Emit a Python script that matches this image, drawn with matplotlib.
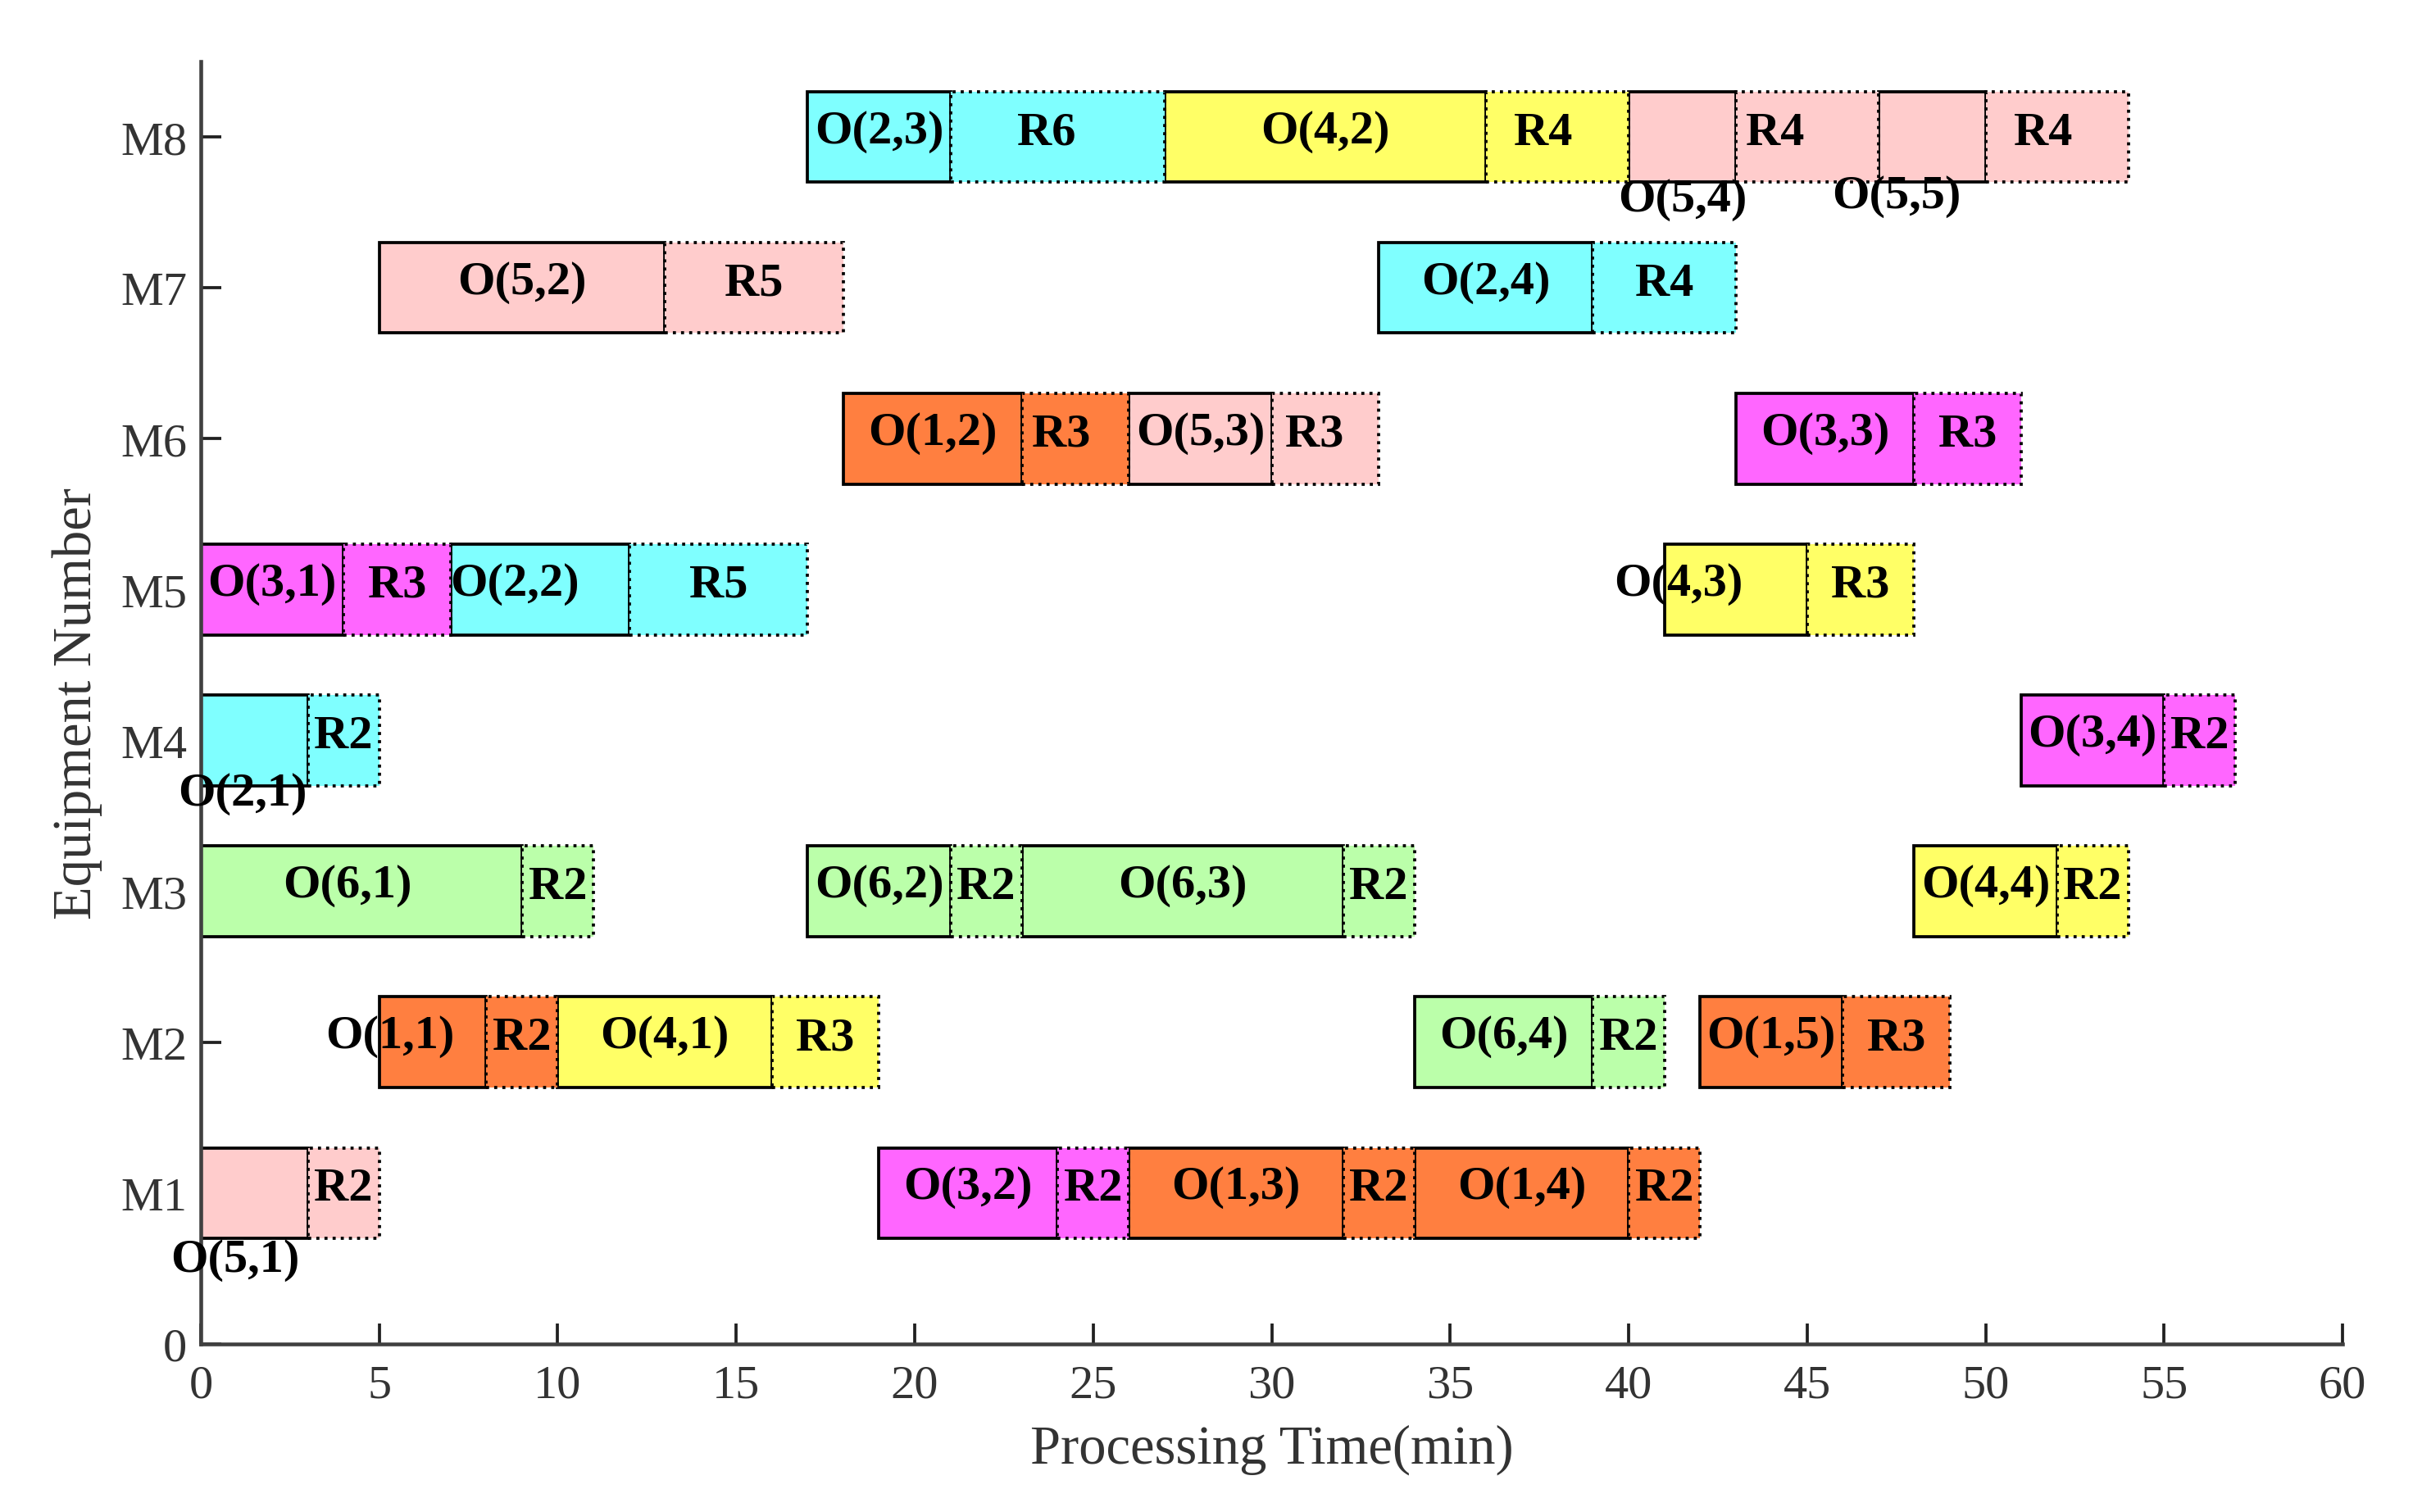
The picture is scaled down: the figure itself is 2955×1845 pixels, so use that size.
import matplotlib.pyplot as plt

plt.rcParams['font.family'] = ['Liberation Serif', 'DejaVu Serif']

# -------------------------------------------------
# Schedule data: one entry per operation O(job,step)
# followed by its R segment on the same machine
# -------------------------------------------------
machine = [8, 8, 8, 8,
           7, 7,
           6, 6, 6,
           5, 5, 5,
           4, 4,
           3, 3, 3, 3,
           2, 2, 2, 2,
           1, 1, 1, 1]
job = [2, 4, 5, 5,
       5, 2,
       1, 5, 3,
       3, 2, 4,
       2, 3,
       6, 6, 6, 4,
       1, 4, 6, 1,
       5, 3, 1, 1]
step = [3, 2, 4, 5,
        2, 4,
        2, 3, 3,
        1, 2, 3,
        1, 4,
        1, 2, 3, 4,
        1, 1, 4, 5,
        1, 2, 3, 4]
start = [17, 27, 40, 47,
         5, 33,
         18, 26, 43,
         0, 7, 41,
         0, 51,
         0, 17, 23, 48,
         5, 10, 34, 42,
         0, 19, 26, 34]
proc = [4, 9, 3, 3,
        8, 6,
        5, 4, 5,
        4, 5, 4,
        3, 4,
        9, 4, 9, 4,
        3, 6, 5, 4,
        3, 5, 6, 6]
rest = [6, 4, 4, 4,
        5, 4,
        3, 3, 3,
        3, 5, 3,
        2, 2,
        2, 2, 2, 2,
        2, 3, 2, 3,
        2, 2, 2, 2]
rname = ['R6', 'R4', 'R4', 'R4',
         'R5', 'R4',
         'R3', 'R3', 'R3',
         'R3', 'R5', 'R3',
         'R2', 'R2',
         'R2', 'R2', 'R2', 'R2',
         'R2', 'R3', 'R2', 'R3',
         'R2', 'R2', 'R2', 'R2']

machine_labels = ['0', 'M1', 'M2', 'M3', 'M4', 'M5', 'M6', 'M7', 'M8']

job_colors = {1: '#ff7f40', 2: '#7fffff', 3: '#ff66ff',
              4: '#ffff66', 5: '#ffcccc', 6: '#bbffaa'}

# label nudges (dx, dy) relative to the segment centre
op_shift = {(2, 2): (-0.7, 0), (4, 3): (-1.6, 0), (1, 1): (-1.2, 0),
            (6, 1): (-0.4, 0), (2, 1): (-0.33, -0.39), (5, 1): (-0.55, -0.48),
            (5, 4): (0.0, -0.45), (5, 5): (-1.0, -0.43)}
r_shift = {(2, 3): -0.3, (4, 2): -0.4, (5, 4): -0.9, (5, 5): -0.4,
           (1, 2): -0.4, (5, 3): -0.3}

H = 0.6

fig = plt.figure(figsize=(9.85, 6.1533), dpi=300)
ax = fig.add_axes([0.0829, 0.1111, 0.8843, 0.8477])

for m, j, s, t0, p, r, rn in zip(machine, job, step, start, proc, rest, rname):
    c = job_colors[j]
    ax.barh(m, p, left=t0, height=H, color=c, edgecolor='black',
            linewidth=0.9, zorder=2)
    ax.barh(m, r, left=t0 + p, height=H, color=c, edgecolor='black',
            linewidth=0.9, linestyle=':', zorder=3)

    dx, dy = op_shift.get((j, s), (0, 0))
    ax.text(t0 + p / 2 + dx, m + 0.04 + dy, f'O({j},{s})', ha='center',
            va='center', fontsize=14, fontweight='bold', zorder=5)
    rdx = r_shift.get((j, s), 0)
    ax.text(t0 + p + r / 2 + rdx, m + 0.03, rn, ha='center', va='center',
            fontsize=14, fontweight='bold', zorder=5)

ax.set_xlim(0, 60)
ax.set_ylim(0, 8.5)
ax.set_xticks(range(0, 61, 5))
ax.set_yticks(range(len(machine_labels)))
ax.set_yticklabels(machine_labels)

for side in ['top', 'right']:
    ax.spines[side].set_visible(False)
for side in ['left', 'bottom']:
    ax.spines[side].set_color('#404040')
    ax.spines[side].set_linewidth(1.1)

ax.tick_params(axis='both', direction='in', length=6, width=0.9,
               colors='#202020', labelsize=14, labelcolor='#333333')
ax.tick_params(axis='x', pad=6)
ax.tick_params(axis='y', pad=4)

ax.set_xlabel('Processing Time(min)', fontsize=16, color='#333333')
ax.set_ylabel('Equipment Number', fontsize=16, color='#333333')
ax.xaxis.set_label_coords(0.5, -0.062)
ax.yaxis.set_label_coords(-0.046, 0.5)

fig.savefig('out.png', dpi=300)
